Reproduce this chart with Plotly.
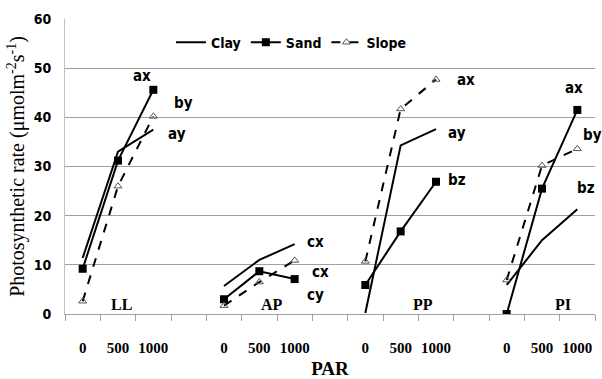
import plotly.graph_objects as go

groups = ["LL", "AP", "PP", "PI"]
par_levels = ["0", "500", "1000"]

clay = [[11.4, 33.0, 37.5], [5.7, 11.0, 14.2], [0.2, 34.3, 37.6], [5.9, 15.0, 21.3]]
sand = [[9.2, 31.2, 45.6], [3.0, 8.7, 7.1], [5.9, 16.8, 26.9], [0.0, 25.5, 41.5]]
slope = [[2.6, 26.0, 40.2], [1.7, 6.5, 10.9], [10.7, 41.7, 47.7], [6.9, 30.2, 33.6]]

letters = ["ax", "by", "ay", "cx", "cx", "cy", "ax", "ay", "bz", "ax", "by", "bz"]
letter_x = [1.68, 2.84, 2.67, 6.58, 6.72, 6.58, 10.85, 10.6, 10.6, 13.9, 14.44, 14.25]
letter_y = [48.4, 42.9, 36.6, 14.6, 8.5, 3.9, 47.6, 36.8, 27.2, 45.9, 36.4, 25.6]

group_label_x = [1.11, 5.36, 9.63, 13.6]
group_label_y = 2.0

SERIF = "Liberation Serif, Times New Roman, serif"
NARROW = "DejaVu Sans Condensed, Liberation Sans Narrow, Arial Narrow, sans-serif"


def flatten(series):
    xs, ys = [], []
    for g, vals in enumerate(series):
        for i, v in enumerate(vals):
            xs.append(g * 4 + i)
            ys.append(v)
        xs.append(g * 4 + 3)
        ys.append(None)
    return xs[:-1], ys[:-1]


fig = go.Figure()
x, y = flatten(clay)
fig.add_trace(go.Scatter(x=x, y=y, mode="lines", name="<b>Clay</b>",
                         line=dict(color="black", width=2), connectgaps=False))
x, y = flatten(sand)
fig.add_trace(go.Scatter(x=x, y=y, mode="lines+markers", name="<b>Sand</b>",
                         line=dict(color="black", width=2),
                         marker=dict(symbol="square", size=8, color="black"),
                         connectgaps=False))
x, y = flatten(slope)
fig.add_trace(go.Scatter(x=x, y=y, mode="lines+markers", name="<b>Slope</b>",
                         line=dict(color="black", width=2, dash="dash"),
                         marker=dict(symbol="triangle-up-open", size=7, color="#555555",
                                     line=dict(width=1)),
                         connectgaps=False))

for t, xx, yy in zip(letters, letter_x, letter_y):
    fig.add_annotation(x=xx, y=yy, text="<b>" + t + "</b>", showarrow=False,
                       font=dict(family=NARROW, size=15, color="black"),
                       xref="x", yref="y")
for g, xx in zip(groups, group_label_x):
    fig.add_annotation(x=xx, y=group_label_y, text="<b>" + g + "</b>", showarrow=False,
                       font=dict(family=SERIF, size=16, color="black"),
                       xref="x", yref="y")

centers = []
labels = []
for g in range(len(groups)):
    for i, p in enumerate(par_levels):
        centers.append(g * 4 + i)
        labels.append("<b>" + p + "</b>")
bounds = [b - 0.5 for b in range(16)]

fig.update_layout(
    width=602, height=379,
    margin=dict(l=65, r=7, t=19, b=65),
    plot_bgcolor="white", paper_bgcolor="white",
    showlegend=True,
    legend=dict(orientation="h", x=0.2, y=0.92, xanchor="left", yanchor="middle",
                font=dict(family=NARROW, size=14, color="black"),
                bgcolor="rgba(0,0,0,0)", itemwidth=30, tracegroupgap=0),
    xaxis=dict(range=[-0.5, 14.5], tickmode="array", tickvals=centers, ticktext=labels,
               ticks="", showgrid=False, zeroline=False, automargin=False,
               showline=True, linecolor="#a0a0a0", linewidth=1,
               tickfont=dict(family=SERIF, size=15, color="black"),
               ticklabelstandoff=20,
               minor=dict(tickmode="array", tickvals=bounds, ticks="outside", ticklen=6,
                          tickcolor="#a0a0a0", showgrid=False),
               title=dict(text="<b>PAR</b>", standoff=7,
                          font=dict(family=SERIF, size=19, color="black"))),
    yaxis=dict(range=[0, 60], tickmode="array", tickvals=[0, 10, 20, 30, 40, 50, 60],
               ticktext=["<b>%d</b>" % v for v in [0, 10, 20, 30, 40, 50, 60]],
               showgrid=True, gridcolor="#a0a0a0", gridwidth=1, zeroline=False,
               automargin=False,
               showline=True, linecolor="#c0c0c0", linewidth=1, ticks="",
               tickfont=dict(family=NARROW, size=14, color="black"),
               ticklabelstandoff=10,
               title=dict(text="Photosynthetic rate (\u03bcmolm<sup>-2</sup>s<sup>-1</sup>)",
                          standoff=3,
                          font=dict(family=SERIF, size=20, color="black"))),
)

fig.write_html("out.html")
